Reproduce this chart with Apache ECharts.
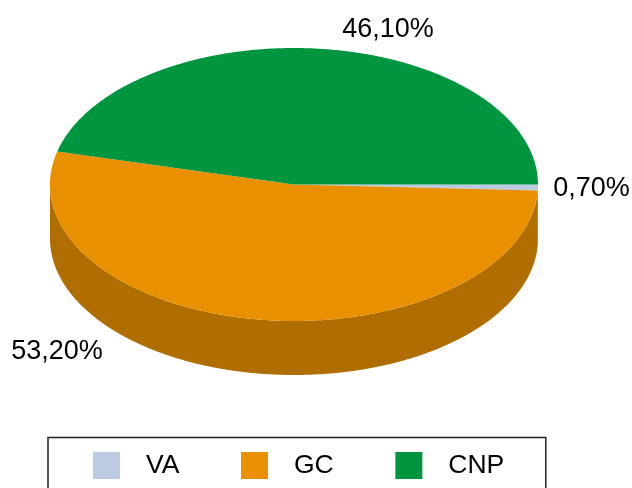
<!DOCTYPE html>
<html>
<head>
<meta charset="utf-8">
<style>
  html, body { margin: 0; padding: 0; background: #fff; overflow: hidden; }
  #chart { width: 632px; height: 488px; }
</style>
<script src="https://cdn.jsdelivr.net/npm/echarts@6/dist/echarts.min.js"></script>
</head>
<body>
<div id="chart"></div>
<script>
const categories = ['VA', 'GC', 'CNP'];
const values = [0.7, 53.2, 46.1];

const topColors = ['#bccbe4', '#e89000', '#009640'];
const sideColors = ['#8492a6', '#b06e00', '#006a2d'];
const labelPositions = [[591.5, 189], [57, 352], [388, 30]];

// flattened pie, the angles are taken on the ellipse
const cx = 294;
const cy = 184.5;
const rx = 244;
const ry = 136.5;
const depth = 54;
const font = '27px "Liberation Sans", Arial, sans-serif';

const total = values.reduce((a, b) => a + b, 0);

const rimPoint = (angle, dy = 0) => [
  cx + rx * Math.cos(angle),
  cy + ry * Math.sin(angle) + dy,
];

const sampleArc = (from, to, dy = 0) => {
  const steps = Math.max(2, Math.ceil(Math.abs(to - from) / (Math.PI / 360)));
  const points = [];
  for (let i = 0; i <= steps; i++) {
    points.push(rimPoint(from + ((to - from) * i) / steps, dy));
  }
  return points;
};

const makeRender = (index) => (params, api) => {
  const before = values.slice(0, index).reduce((a, b) => a + b, 0);
  const start = (before / total) * Math.PI * 2;
  const end = ((before + api.value(0)) / total) * Math.PI * 2;
  const children = [];

  // only the front half of the wall can be seen
  const wallEnd = Math.min(end, Math.PI);
  if (start < wallEnd) {
    const upper = sampleArc(start, wallEnd);
    const lower = sampleArc(wallEnd, start, depth);
    children.push({
      type: 'polygon',
      shape: { points: upper.concat(lower) },
      style: { fill: sideColors[index] },
    });
  }

  children.push({
    type: 'polygon',
    shape: { points: [[cx, cy]].concat(sampleArc(start, end)) },
    style: { fill: topColors[index] },
  });

  children.push({
    type: 'text',
    style: {
      x: labelPositions[index][0],
      y: labelPositions[index][1],
      text: api.value(0).toFixed(2).replace('.', ',') + '%',
      font: font,
      fill: '#000',
      align: 'center',
      verticalAlign: 'middle',
    },
  });

  return { type: 'group', children };
};

const chart = echarts.init(document.getElementById('chart'));

chart.setOption({
  animation: false,
  legend: {
    left: 48,
    top: 437.5,
    orient: 'horizontal',
    icon: 'rect',
    itemWidth: 27,
    itemHeight: 27,
    itemGap: 61.6,
    padding: [14.5, 41.5, 30, 45],
    borderColor: '#222',
    borderWidth: 1.5,
    borderRadius: 0,
    selectedMode: false,
    data: categories,
    textStyle: {
      color: '#000',
      fontFamily: '"Liberation Sans", Arial, sans-serif',
      fontSize: 26.5,
      padding: [4, 0, 0, 21],
    },
  },
  series: categories.map((name, i) => ({
    type: 'custom',
    name: name,
    coordinateSystem: 'none',
    itemStyle: { color: topColors[i] },
    renderItem: makeRender(i),
    data: [[values[i]]],
  })),
});

window.addEventListener('resize', function () {
  chart.resize();
});
</script>
</body>
</html>
